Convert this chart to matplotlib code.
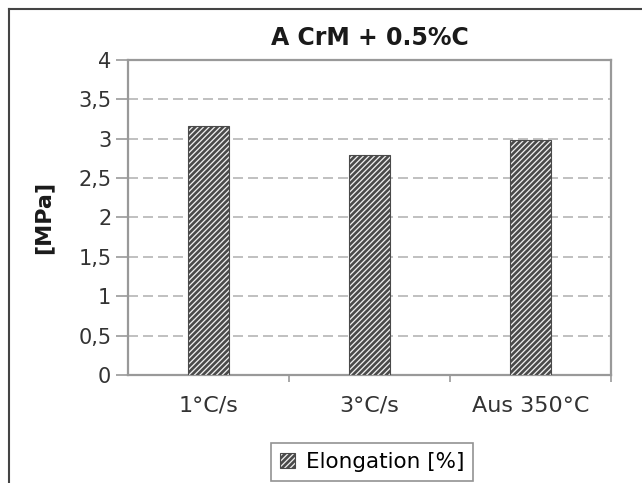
#!/usr/bin/env python3
# plot.py

import matplotlib
matplotlib.use("Agg")
import matplotlib.pyplot as plt
from matplotlib.lines import Line2D

categories = ["1°C/s", "3°C/s", "Aus 350°C"]
elongation = [3.16, 2.79, 2.98]
y_ticks = [0, 0.5, 1, 1.5, 2, 2.5, 3, 3.5, 4]
y_tick_labels = ["0", "0,5", "1", "1,5", "2", "2,5", "3", "3,5", "4"]

plt.rcParams["font.family"] = ["DejaVu Sans"]
plt.rcParams["hatch.linewidth"] = 1.9


def main():
    fig = plt.figure(figsize=(6.42, 4.83), dpi=100)
    ax = fig.add_axes([0.1994, 0.2236, 0.7523, 0.6522])

    x = list(range(len(categories)))
    ax.bar(x, elongation, width=0.26, color="#f0f0f0", edgecolor="#4a4a4a",
           hatch="//////", linewidth=0.8, label="Elongation [%]", zorder=3)

    ax.set_xlim(-0.5, len(categories) - 0.5)
    ax.set_ylim(0, 4)
    ax.set_yticks(y_ticks)
    ax.set_yticklabels(y_tick_labels)
    ax.set_xticks(x)
    ax.set_xticklabels(categories)
    ax.set_xticks([0.5, 1.5, 2.5], minor=True)
    ax.tick_params(axis="x", which="major", length=0, pad=15, labelsize=16, colors="#333")
    ax.tick_params(axis="x", which="minor", length=5, color="#999", width=1.2)
    ax.tick_params(axis="y", length=9, color="#999", width=1.2, labelsize=15,
                   labelcolor="#333", pad=3)

    # dashed horizontal gridlines (not at the top edge)
    for v in y_ticks[1:-1]:
        ax.axhline(v, color="#b5b5b5", lw=1.2, ls=(0, (6, 3)), zorder=1)

    for s in ax.spines.values():
        s.set_color("#999")
        s.set_linewidth(1.6)

    ax.set_title("A CrM + 0.5%C", fontsize=17, fontweight="bold", pad=11, color="#1a1a1a")
    ax.set_ylabel("[MPa]", fontsize=16, fontweight="bold", color="#1a1a1a")
    # label centre at x ~ 43 px; axes spans 128..611 px
    ax.yaxis.set_label_coords((43 - 128) / 483, 0.5)
    ax.yaxis.label.set_verticalalignment("center")

    leg = fig.legend(loc="center", bbox_to_anchor=(372 / 642, 1 - 462 / 483),
                     fontsize=15.5, frameon=True, fancybox=False, handlelength=0.7,
                     handleheight=0.7, handletextpad=0.5, borderpad=0.4)
    leg.get_frame().set_edgecolor("#777")
    leg.get_frame().set_linewidth(1.2)

    # outer frame (left and top edges visible)
    fig.add_artist(Line2D([9 / 642, 9 / 642], [0, 1 - 9 / 483], color="#444", lw=1.5,
                          transform=fig.transFigure))
    fig.add_artist(Line2D([9 / 642, 1], [1 - 9 / 483, 1 - 9 / 483], color="#444", lw=1.5,
                          transform=fig.transFigure))

    fig.savefig("out.png", dpi=100)


if __name__ == "__main__":
    main()
